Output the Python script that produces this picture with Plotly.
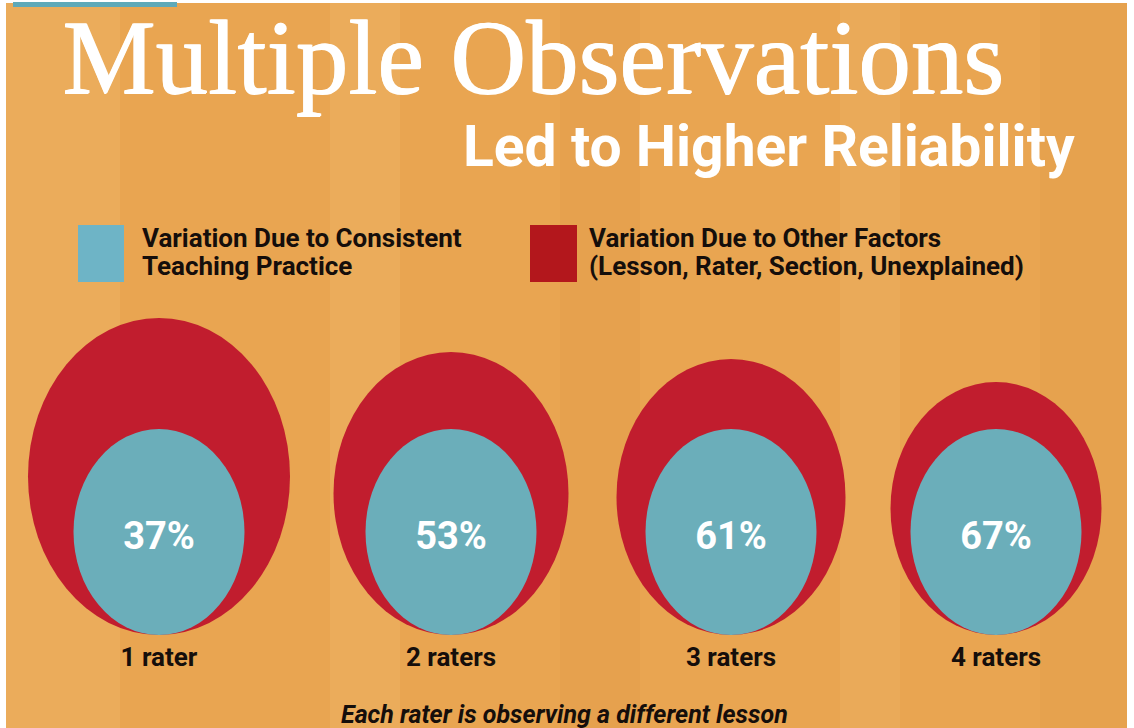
import plotly.graph_objects as go

# ---------------- data ----------------
raters = ["1 rater", "2 raters", "3 raters", "4 raters"]
consistent_pct = [37, 53, 61, 67]
title_text = "Multiple Observations"
subtitle_text = "Led to Higher Reliability"
legend_consistent = ["Variation Due to Consistent", "Teaching Practice"]
legend_other = ["Variation Due to Other Factors", "(Lesson, Rater, Section, Unexplained)"]
footnote_text = "Each rater is observing a different lesson"

# ---------------- layout constants (pixel space) ----------------
W, H = 1134, 728
CENTER_X = [159, 451, 731, 996]
OUTER_W = [262, 235, 229, 211]
OUTER_H = [317, 283, 276, 253]
INNER_W, INNER_H = 171, 206
BASE_Y = 635

BG = "#E9A551"
RED = "#C11D2E"
TEAL = "#6BAEBA"
LEG_TEAL = "#6EB4C6"
LEG_RED = "#B3171C"
INK = "#150E0B"

fig = go.Figure()

shapes = []
# background
shapes.append(dict(type="rect", xref="x", yref="y", x0=6, x1=1127, y0=3, y1=H,
                   fillcolor=BG, line=dict(width=0), layer="below"))
# subtle texture bands
for x0, x1, c in [(6, 120, "rgba(255,235,190,0.10)"), (330, 400, "rgba(255,235,190,0.10)"),
                  (560, 640, "rgba(180,110,30,0.06)"), (840, 900, "rgba(255,235,190,0.08)"),
                  (1040, 1127, "rgba(180,110,30,0.05)")]:
    shapes.append(dict(type="rect", xref="x", yref="y", x0=x0, x1=x1, y0=3, y1=H,
                       fillcolor=c, line=dict(width=0), layer="below"))
# top-left teal bar
shapes.append(dict(type="rect", xref="x", yref="y", x0=13, x1=177, y0=2, y1=7,
                   fillcolor="#5FA9B8", line=dict(width=0), layer="below"))
# legend squares
shapes.append(dict(type="rect", xref="x", yref="y", x0=78, x1=124, y0=225, y1=282,
                   fillcolor=LEG_TEAL, line=dict(width=0), layer="below"))
shapes.append(dict(type="rect", xref="x", yref="y", x0=530, x1=577, y0=225, y1=282,
                   fillcolor=LEG_RED, line=dict(width=0), layer="below"))

# ellipses
for cx, ow, oh in zip(CENTER_X, OUTER_W, OUTER_H):
    shapes.append(dict(type="circle", xref="x", yref="y",
                       x0=cx - ow / 2, x1=cx + ow / 2, y0=BASE_Y - oh, y1=BASE_Y,
                       fillcolor=RED, line=dict(width=0), layer="below"))
    shapes.append(dict(type="circle", xref="x", yref="y",
                       x0=cx - INNER_W / 2, x1=cx + INNER_W / 2, y0=BASE_Y - INNER_H, y1=BASE_Y,
                       fillcolor=TEAL, line=dict(width=0), layer="below"))

# percent labels
fig.add_trace(go.Scatter(
    x=CENTER_X, y=[539] * len(consistent_pct), mode="text",
    text=[f"{p}%" for p in consistent_pct],
    textfont=dict(family="Roboto", size=38, color="white", weight="bold"),
    hoverinfo="skip", showlegend=False))

# rater labels
fig.add_trace(go.Scatter(
    x=CENTER_X, y=[659] * len(raters), mode="text", text=raters,
    textfont=dict(family="Roboto", size=26, color=INK, weight="bold"),
    hoverinfo="skip", showlegend=False))

annotations = []
annotations.append(dict(text=title_text, x=60, y=57, xref="x", yref="y",
                        xanchor="left", yanchor="middle", showarrow=False,
                        font=dict(family="Liberation Serif", size=105, color="white",
                                  shadow="1px 0px 0px white, 0px 1px 0px white")))
annotations.append(dict(text=subtitle_text, x=1077, y=146, xref="x", yref="y",
                        xanchor="right", yanchor="middle", showarrow=False,
                        font=dict(family="Roboto", size=57, color="white", weight="bold")))
for i, line in enumerate(legend_consistent):
    annotations.append(dict(text=line, x=140, y=238 + 28 * i, xref="x", yref="y",
                            xanchor="left", yanchor="middle", showarrow=False,
                            font=dict(family="Roboto", size=26, color=INK, weight="bold")))
for i, line in enumerate(legend_other):
    annotations.append(dict(text=line, x=587, y=238 + 28 * i, xref="x", yref="y",
                            xanchor="left", yanchor="middle", showarrow=False,
                            font=dict(family="Roboto", size=26, color=INK, weight="bold")))
annotations.append(dict(text=footnote_text, x=564, y=714, xref="x", yref="y",
                        xanchor="center", yanchor="middle", showarrow=False,
                        font=dict(family="Roboto", size=25, color=INK, weight="bold",
                                  style="italic")))

fig.update_layout(
    width=W, height=H,
    margin=dict(l=0, r=0, t=0, b=0),
    paper_bgcolor="white", plot_bgcolor="rgba(0,0,0,0)",
    xaxis=dict(range=[0, W], domain=[0, 1], visible=False, fixedrange=True),
    yaxis=dict(range=[H, 0], domain=[0, 1], visible=False, fixedrange=True),
    shapes=shapes, annotations=annotations, showlegend=False,
)

fig.write_html("out.html", config={"displayModeBar": False},
               post_script="document.body.style.margin='0';document.body.style.overflow='hidden';")
